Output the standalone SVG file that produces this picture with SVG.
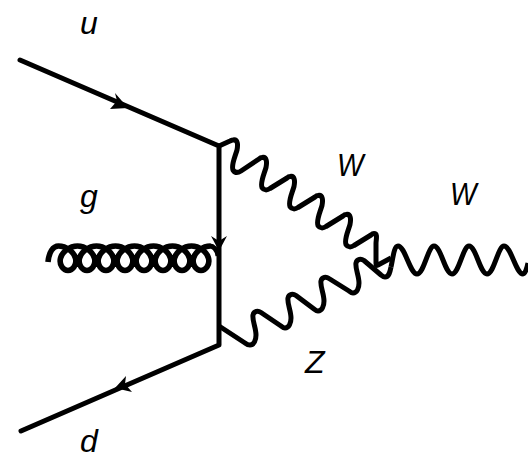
<svg xmlns="http://www.w3.org/2000/svg" width="528" height="459" viewBox="0 0 528 459">
<style>
.l{fill:none;stroke:#000;stroke-width:5;stroke-linecap:round;stroke-linejoin:round}
.g{fill:none;stroke:#000;stroke-width:5;stroke-linecap:butt;stroke-linejoin:round}
.c{fill:none;stroke:#000;stroke-width:5.6;stroke-linecap:butt;stroke-linejoin:round}
.a{fill:#000;stroke:none}
.t{font-family:"Liberation Sans",Arial,sans-serif;font-style:italic;font-size:32px;fill:#000}
</style>
<rect width="528" height="459" fill="#fff"/>
<g id="connectors">
<path class="l" d="M20,60L219,146V345L21,431"/>
<path class="a" d="M128,108L110,109L117,101L115,93Z"/>
<path class="a" d="M219,251L211,236L219,241L227,236Z"/>
<path class="a" d="M115,388L126,376L125,384L132,392Z"/>
<path class="g" d="M219,146L230,141
C232,140 232.500,140 233,140c5,-1 5,5 4,10c-2,7 -6,15 -4,20c2,3 5,3 8,1L259,159c1,-1 2,-1.500 3,-1.500
c5,-1 5,5 4,10c-2,7 -6,15 -4,20c2,3 5,3 8,1L287,178c1,-1 2,-1.500 3,-1.500
c5,-1 5,5 4,10c-2,7 -6,15 -4,20c2,3 5,3 8,1L315,197c1,-1 2,-1.500 3,-1.500
c5,-1 5,5 4,10c-2,7 -6,15 -4,20c2,3 5,3 8,1L343,216c1,-1 2,-1.500 3,-1.500
c5,-1 5,5 4,10c-2,7 -6,15 -4,20c2,3 5,3 8,1L371,235c1,-1 2,-1.500 3,-1.500
c4,0 2,6 2,10L376,263c0,2 0,3 2,2L391,258"/>
<path class="g" d="M219,326L245,343c2,1.500 4,2 5,2c4,0 6,-5 6,-10c0,-7 -4,-15 -3,-20c1,-4 5,-4.500 8,-2.500
L281,326c2,1.500 3,2 4,2c4,0 6,-5 6,-10c0,-7 -4,-15 -3,-20c1,-4 5,-4.500 8,-2.500
L314,309c2,1.500 3,2 4,2c4,0 6,-5 6,-10c0,-7 -4,-15 -3,-20c1,-4 5,-4.500 8,-2.500
L349,291c2,1.500 3,2 4,2c4,0 6,-5 6,-10c0,-7 -4,-15 -3,-20c1,-4 5,-4.500 8,-2.500
L381,275c2,1.500 3,2 4,2c4,0 5,-5 6,-10"/>
<path class="g" d="M391,267C393,258 394,246 398,246C405,246 410,274 417,274C424,274 428,246 434,246C441,246 445,274 452,274C459,274 463,246 469,246C476,246 480,274 487,274C494,274 498,246 504,246C511,246 516,274 523,274C525,274 527,268 528,263"/>
<path class="c" d="M48,262C49,252 53,246 58.500,246
c8,0 15.420,5.840 17,12.250c1.580,6.410 -2.670,12.250 -7.500,12.250c-4.830,0 -9.080,-5.840 -7.500,-12.250c1.580,-6.410 9,-12.250 17,-12.250
c8,0 15.420,5.840 17,12.250c1.580,6.410 -2.670,12.250 -7.500,12.250c-4.830,0 -9.080,-5.840 -7.500,-12.250c1.580,-6.410 9,-12.250 17,-12.250
c8,0 15.420,5.840 17,12.250c1.580,6.410 -2.670,12.250 -7.500,12.250c-4.830,0 -9.080,-5.840 -7.500,-12.250c1.580,-6.410 9,-12.250 17,-12.250
c8,0 15.420,5.840 17,12.250c1.580,6.410 -2.670,12.250 -7.500,12.250c-4.830,0 -9.080,-5.840 -7.500,-12.250c1.580,-6.410 9,-12.250 17,-12.250
c8,0 15.420,5.840 17,12.250c1.580,6.410 -2.670,12.250 -7.500,12.250c-4.830,0 -9.080,-5.840 -7.500,-12.250c1.580,-6.410 9,-12.250 17,-12.250
c8,0 15.420,5.840 17,12.250c1.580,6.410 -2.670,12.250 -7.500,12.250c-4.830,0 -9.080,-5.840 -7.500,-12.250c1.580,-6.410 9,-12.250 17,-12.250
c8,0 15.420,5.840 17,12.250c1.580,6.410 -2.670,12.250 -7.500,12.250c-4.830,0 -9.080,-5.840 -7.500,-12.250c1.580,-6.410 9,-12.250 17,-12.250
c8,0 15.420,5.840 17,12.250c1.580,6.410 -2.670,12.250 -7.500,12.250c-4.830,0 -9.080,-5.840 -7.500,-12.250c1.580,-6.410 9,-12.250 17,-12.250"/>
<path class="g" d="M210,246C213,246 217,249 218,256"/>
</g>
<g id="label-u"><text class="t" x="80" y="34">u</text></g>
<g id="label-g"><text class="t" x="80" y="207">g</text></g>
<g id="label-d"><text class="t" x="80" y="452">d</text></g>
<g id="label-w1"><text class="t" transform="translate(337 176) scale(.88 1)">W</text></g>
<g id="label-w2"><text class="t" transform="translate(450 205) scale(.88 1)">W</text></g>
<g id="label-z"><text class="t" x="305" y="373">Z</text></g>
</svg>
